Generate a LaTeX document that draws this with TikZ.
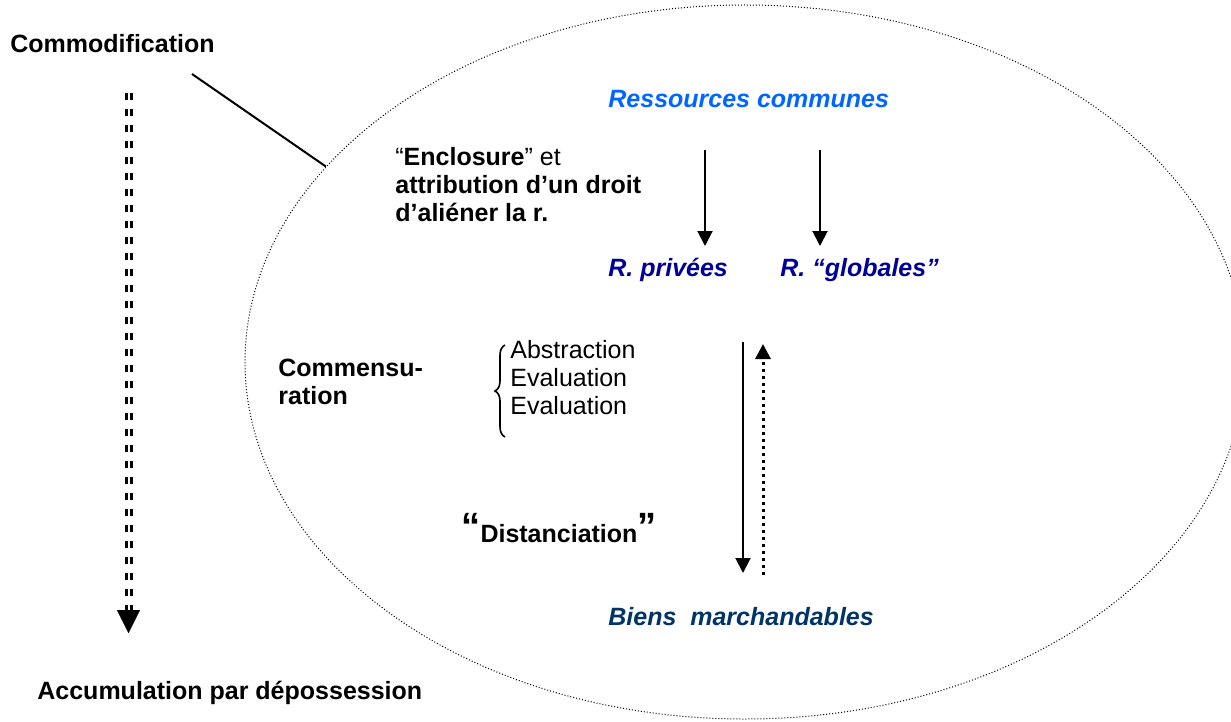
\documentclass[tikz,border=0pt]{standalone}
\usepackage{fontspec}
\setmainfont{Liberation Sans}
\usetikzlibrary{arrows.meta,positioning,shapes.geometric,decorations.pathreplacing}
\definecolor{commblue}{RGB}{0,102,255}
\definecolor{privblue}{RGB}{0,0,153}
\definecolor{bienblue}{RGB}{0,51,102}

\begin{document}
\begin{tikzpicture}[x=0.5pt,y=-0.5pt,
  txt/.style={inner sep=0pt, align=left, font=\fontsize{12.5}{14}\selectfont},
  bold/.style={txt, font=\fontsize{12.5}{14}\selectfont\bfseries},
  res/.style={txt, font=\fontsize{12.5}{14}\selectfont\bfseries\itshape},
  arr/.style={line width=1pt, -{Triangle[width=7.5pt,length=7.5pt]}},
  dots/.style={line width=1.5pt, dash pattern=on 1.5pt off 2pt}]
  \useasboundingbox (0,0) rectangle (1231,722);

  % the big dotted ellipse
  \node[draw, ellipse, inner sep=0pt, line width=0.5pt, dash pattern=on 0.5pt off 1pt,
        minimum width=500pt, minimum height=357pt] (frame) at (745,362) {};

  % left column
  \node[bold, anchor=west] (comm) at (10,44) {Commodification};
  \node[bold, anchor=west] (acc) at (37,693) {Accumulation par dépossession};
  \coordinate (cline) at (192,74);
  \draw[line width=1pt] (cline) -- (frame.155);

  \coordinate (accTop) at (128.5,93);
  \coordinate (accEnd) at (128.5,612);
  \coordinate (accTip) at (128.5,633);
  \foreach \dx in {-2.5,2.5}
    \draw[line width=1.5pt, dash pattern=on 3.5pt off 4.5pt] ([xshift=\dx*0.5pt]accTop) -- ([xshift=\dx*0.5pt]accEnd);
  \draw[line width=0.1pt, -{Triangle[width=11.5pt,length=11.5pt]}] (accEnd) -- (accTip);

  % resources
  \node[res, commblue, anchor=west] (res) at (608,99) {Ressources communes};
  \node[res, privblue, anchor=west] (priv) at (608,270) {R. privées};
  \node[res, privblue, anchor=west] (glob) at (780,270) {R. “globales”};
  \node[res, bienblue, anchor=west] (bien) at (608,617) {Biens\ \ marchandables};

  \node[txt, anchor=west] (encl) at (395,185)
    {“\textbf{Enclosure}” et\\ \textbf{attribution d’un droit}\\ \textbf{d’aliéner la r.}};

  \coordinate (privTop) at (705,150);
  \coordinate (privTip) at (705,246);
  \coordinate (globTop) at (820,150);
  \coordinate (globTip) at (820,246);
  \draw[arr] (privTop) -- (privTip);
  \draw[arr] (globTop) -- (globTip);

  % commensuration
  \node[bold, anchor=west] (commens) at (278,382) {Commensu-\\ration};
  \node[txt, anchor=west] (abst) at (510,378) {Abstraction\\Evaluation\\Evaluation};
  \draw[line width=0.8pt, decorate, decoration={brace, amplitude=5pt, mirror}]
    (abst.west |- 0,345) ++(-5,0) -- ++(0,92);

  \node[bold] (dist) at (559,528)
    {\raisebox{1.5pt}{\fontsize{19}{19}\selectfont “}Distanciation\raisebox{1.5pt}{\fontsize{19}{19}\selectfont ”}};

  \coordinate (downTop) at (743,342);
  \coordinate (downTip) at (743,573);
  \coordinate (upBot) at (763,575);
  \coordinate (upTip) at (763,344);
  \draw[arr] (downTop) -- (downTip);
  \draw[arr, dots] (upBot) -- (upTip);
\end{tikzpicture}
\end{document}
